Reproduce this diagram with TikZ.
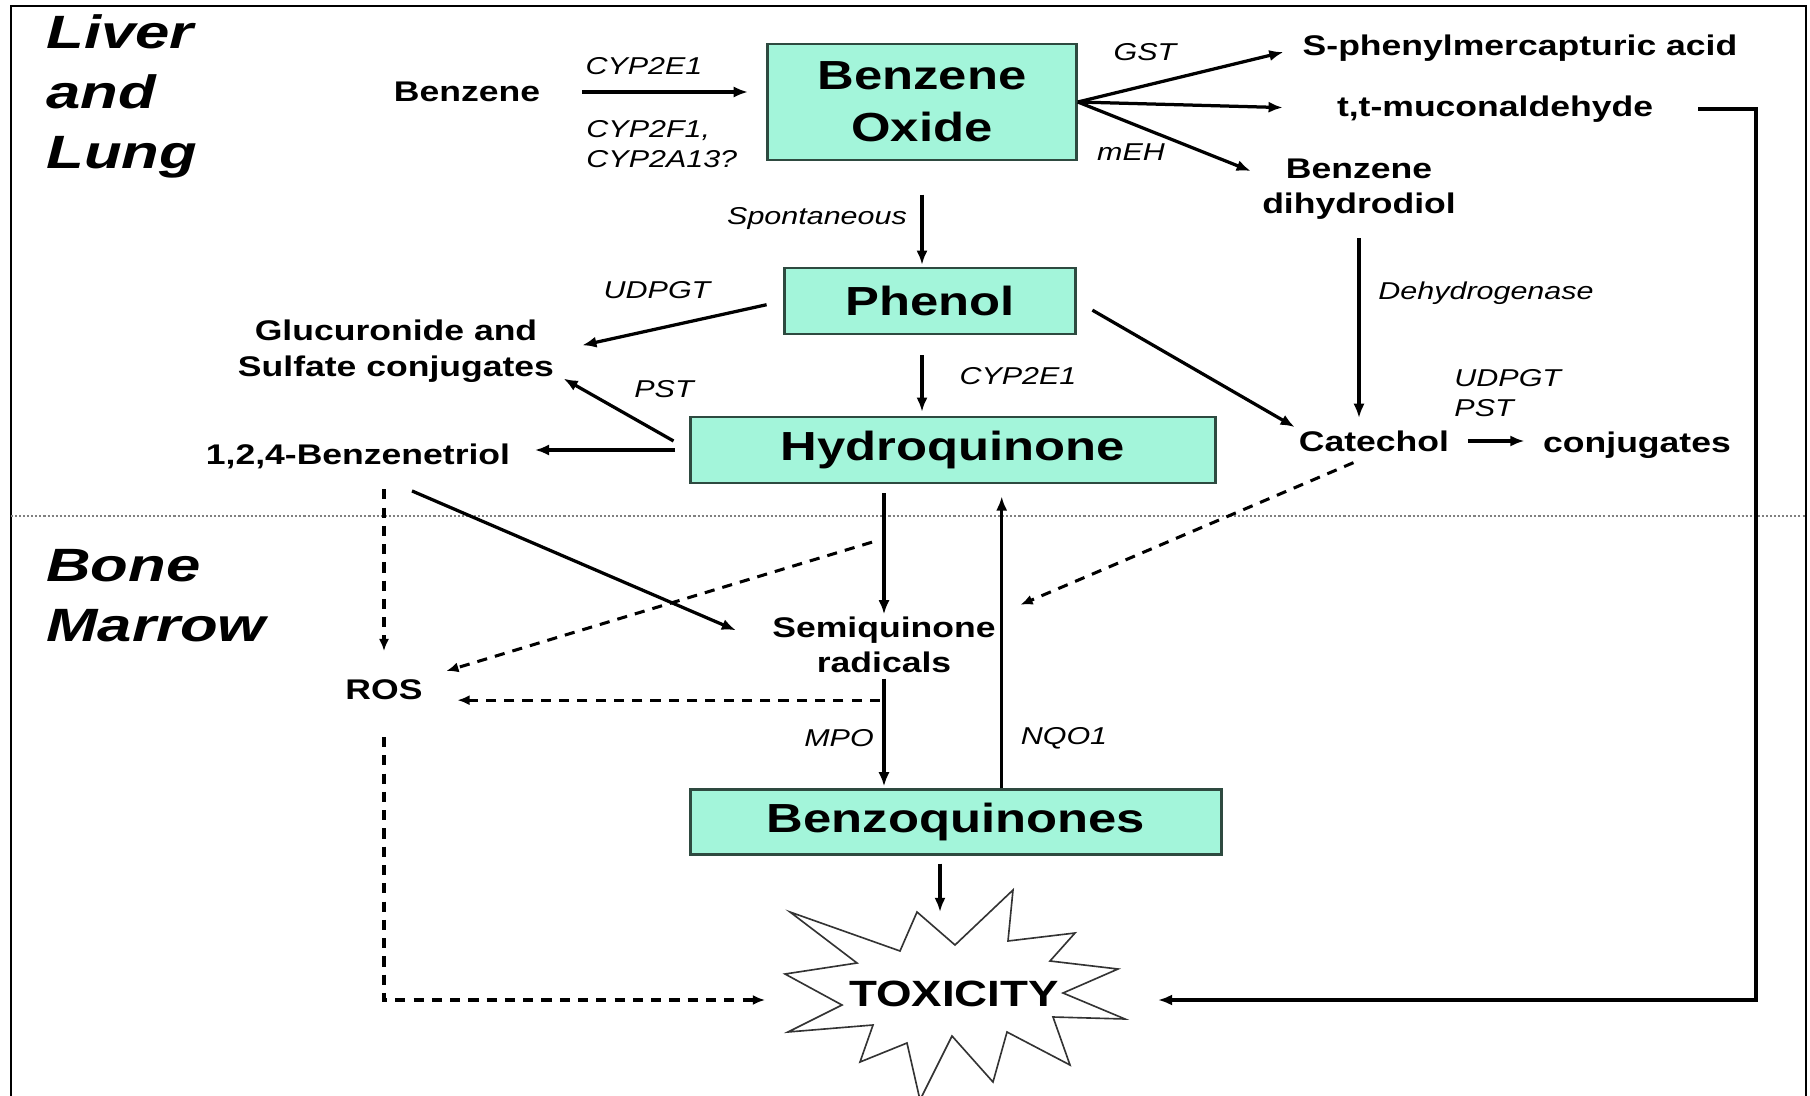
\documentclass[tikz,border=0pt]{standalone}
\usepackage{fontspec}
\usepackage{tikz}
\usetikzlibrary{calc,arrows.meta}
\newfontfamily\diafont{Liberation Sans}[FakeStretch=1.25]
\newfontfamily\regfont{Liberation Sans}[FakeStretch=1.32]
\definecolor{boxfill}{RGB}{163,245,218}
\definecolor{boxline}{RGB}{46,74,64}

\begin{document}
\begin{tikzpicture}[x=0.0173cm,y=-0.0173cm,
	lbl/.style={font=\diafont\bfseries\fontsize{14}{17.5}\selectfont,align=center,inner sep=1pt},
	enz/.style={font=\diafont\itshape\fontsize{12}{15}\selectfont,inner sep=1pt},
	metab/.style={draw=boxline,fill=boxfill,line width=1.2pt,inner sep=0pt,align=center,font=\diafont\bfseries\fontsize{20}{25.5}\selectfont},
	region/.style={anchor=north west,align=left,inner sep=0pt,font=\regfont\bfseries\itshape\fontsize{23}{29.5}\selectfont},
	rxn/.style={-{Latex[length=7pt,width=5.5pt]},line width=1.6pt},
	rosrxn/.style={-{Latex[length=6pt,width=5pt]},line width=1.5pt,dash pattern=on 5pt off 4pt}]
		\fill[white] (0,0) rectangle (1810,1096);
		\useasboundingbox (0,0) rectangle (1810,1096);
		\draw[line width=1pt] (11,1096) -- (11,6) -- (1806,6) -- (1806,1096);
		\draw[gray,densely dotted,line width=1pt] (11,516) -- (1806,516);
		\node[region] (liver) at (46,14) {Liver\\and\\Lung};
		\node[region] (marrow) at (46,549) {Bone\\Marrow};
		
		\node[lbl] (benz) at (467,92) {Benzene};
		\node[metab,minimum width=5.35cm,minimum height=2cm] (bo) at (922,102) {Benzene\\Oxide};
		\node[lbl] (spma) at (1520,48) {S-phenylmercapturic acid};
		\node[lbl] (muc) at (1495,109) {t,t-muconaldehyde};
		\node[lbl] (bdhd) at (1359,189) {Benzene\\dihydrodiol};
		\node[metab,minimum width=5.03cm,minimum height=1.14cm] (phen) at (930,301) {Phenol};
		\node[lbl] (gluc) at (396,351) {Glucuronide and\\Sulfate conjugates};
		\node[metab,minimum width=9.08cm,minimum height=1.14cm] (hq) at (953,450) {Hydroquinone};
		\node[lbl] (bt) at (358,456) {1,2,4-Benzenetriol};
		\node[lbl] (cat) at (1374,441) {Catechol};
		\node[lbl] (conj) at (1637,445) {conjugates};
		\node[lbl] (sq) at (884,645) {Semiquinone\\radicals};
		\node[lbl] (ros) at (384,690) {ROS};
		\node[metab,minimum width=9.19cm,minimum height=1.12cm] (bq) at (956,822) {Benzoquinones};
		
		\draw[line width=0.8pt,black!80,fill=white] (790,912) -- (900,951) -- (917,912) -- (955,945) -- (1013,890) -- (1008,941) -- (1075,933) -- (1050,961) -- (1118,969) -- (1063,993) -- (1125,1019) -- (1053,1017) -- (1070,1065) -- (1007,1032) -- (993,1082) -- (952,1036) -- (920,1100) -- (907,1043) -- (860,1062) -- (873,1025) -- (788,1032) -- (842,1005) -- (785,974) -- (857,963) -- cycle;
		\node[font=\diafont\bfseries\fontsize{18}{20}\selectfont,inner sep=1pt] (tox) at (954,994) {TOXICITY};
		\coordinate (toxN) at (940,912);
		\coordinate (toxW) at (765,1000);
		\coordinate (toxE) at (1158,1000);
		\coordinate (rside) at (1756,1000);
		
		\node[enz] (cyp1) at (644,66) {CYP2E1};
		\node[enz,align=left,anchor=west] (cyp2) at (584,144) {CYP2F1,\\CYP2A13?};
		\node[enz] (gst) at (1145,52) {GST};
		\node[enz] (meh) at (1131,152) {mEH};
		\node[enz] (spon) at (817,219) {Spontaneous};
		\node[enz] (udpgt) at (657,290) {UDPGT};
		\node[enz] (dhg) at (1486,293) {Dehydrogenase};
		\node[enz] (cyp3) at (1018,376) {CYP2E1};
		\node[enz] (pst) at (664,389) {PST};
		\node[enz,align=left,anchor=west] (catenz) at (1452,393) {UDPGT\\PST};
		\node[enz] (mpo) at (839,738) {MPO};
		\node[enz] (nqo) at (1064,738) {NQO1};
		
		\draw[rxn,shorten <=19.5pt,shorten >=9pt] (benz.east) -- (benz.east -| bo.west);
		\draw[rxn,shorten >=8.5pt] (bo.east) -- (spma.west);
		\draw[rxn,shorten >=25.5pt] (bo.east) -- (muc.west);
		\draw[rxn] (bo.east) -- ($(bdhd.north west)+(-9,15)$);
		\draw[rxn,shorten <=16.5pt,shorten >=1pt] (bo.south) -- (bo.south |- phen.north);
		\draw[rxn,shorten <=8.5pt,shorten >=13pt] (phen.west) -- (gluc.east);
		\draw[rxn,shorten <=9pt,shorten >=1pt] (phen.east) -- (cat.north west);
		\draw[rxn,shorten <=8pt,shorten >=5pt] (bdhd.south) -- (bdhd.south |- cat.north);
		\draw[rxn,shorten <=10pt,shorten >=2pt] (bo.south |- phen.south) -- (bo.south |- hq.north);
		\draw[rxn,shorten <=9pt,shorten >=4pt] (hq.west) -- ($(gluc.south east)+(0,-10)$);
		\draw[rxn,shorten <=7pt,shorten >=11pt] (hq.west) -- (hq.west -| bt.east);
		\draw[rxn,shorten <=8pt,shorten >=8pt] (cat.east) -- (cat.east -| conj.west);
		\draw[rosrxn,shorten <=9pt,shorten >=13pt] (ros.north |- bt.south) -- (ros.north);
		\draw[rxn] ($(bt.south)+(54,20)$) -- ($(sq.north west)+(-34,16)$);
		\draw[rosrxn,shorten >=11pt] ($(hq.south)+(-81,58)$) -- (ros.north east);
		\draw[rosrxn,shorten <=11pt,shorten >=12pt] (cat.south) -- (sq.north east);
		\draw[rxn,shorten <=4.5pt] (sq.north |- hq.south) -- (sq.north);
		\coordinate (rosin) at ([yshift=-5pt]ros.east);
		\draw[rosrxn,shorten <=2pt,shorten >=16pt] (rosin -| sq.south) -- (rosin);
		\draw[rxn,shorten <=1.5pt,shorten >=1pt] (sq.south) -- (sq.south |- bq.north);
		\coordinate (nqo1) at ([xshift=22.5pt]bq.north);
		\draw[rxn,shorten >=6pt] (nqo1) -- (nqo1 |- hq.south);
		\draw[rxn,shorten <=4pt] (toxN |- bq.south) -- (toxN);
		\draw[rosrxn,shorten <=17pt] (ros.south) -- (ros.south |- toxW) -- (toxW);
		\draw[rxn,shorten <=21pt] (muc.east) -- (muc.east -| rside) -- (rside) -- (toxE);
\end{tikzpicture}
\end{document}
